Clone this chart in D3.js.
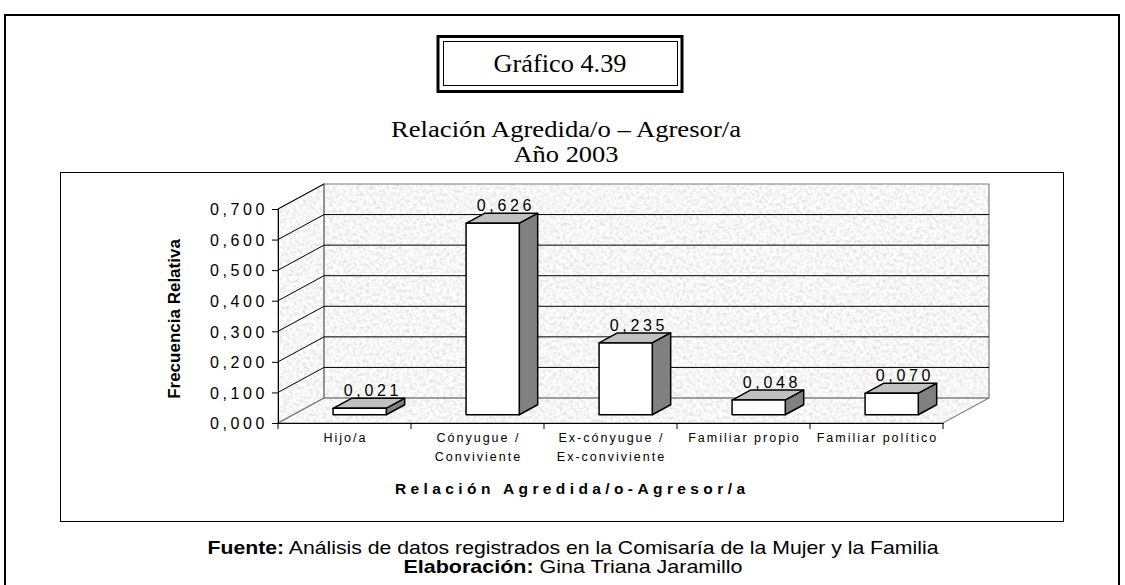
<!DOCTYPE html>
<html>
<head>
<meta charset="utf-8">
<script src="https://cdn.jsdelivr.net/npm/d3@7"></script>
<style>
  html, body { margin: 0; padding: 0; background: #fff; }
  svg { display: block; }
</style>
</head>
<body>
<svg id="chart" width="1125" height="585"></svg>
<script>
// Relative frequency by victim–aggressor relationship, 2003
const categories = [
  ["Hijo/a"],
  ["Cónyugue /", "Conviviente"],
  ["Ex-cónyugue /", "Ex-conviviente"],
  ["Familiar propio"],
  ["Familiar político"]
];
const values = [0.021, 0.626, 0.235, 0.048, 0.070];
const valueLabels = ["0,021", "0,626", "0,235", "0,048", "0,070"];
const yTicks = [0, 0.1, 0.2, 0.3, 0.4, 0.5, 0.6, 0.7];
const yTickLabels = ["0,000", "0,100", "0,200", "0,300", "0,400", "0,500", "0,600", "0,700"];

const svg = d3.select("#chart");
const sans = "'Liberation Sans', Arial, sans-serif";
const serif = "'Liberation Serif', 'Times New Roman', serif";

// stone texture for walls and floor
const defs = svg.append("defs");
const f = defs.append("filter").attr("id", "granite")
  .attr("x", 0).attr("y", 0).attr("width", 1).attr("height", 1);
f.append("feTurbulence").attr("type", "fractalNoise").attr("baseFrequency", "0.3")
  .attr("numOctaves", 3).attr("seed", 7).attr("result", "noise");
f.append("feColorMatrix").attr("in", "noise").attr("type", "matrix")
  .attr("values", "0.5 0 0 0 0.67  0.5 0 0 0 0.67  0.5 0 0 0 0.67  0 0 0 0 1")
  .attr("result", "gray");
f.append("feComposite").attr("in", "gray").attr("in2", "SourceGraphic").attr("operator", "in");

// page frame
svg.append("path")
  .attr("d", "M5,600 L5,15 L1119,15 L1119,600")
  .attr("fill", "none").attr("stroke", "#000").attr("stroke-width", 2);

// title box with double border
svg.append("rect").attr("x", 438).attr("y", 36.5).attr("width", 244).attr("height", 55)
  .attr("fill", "none").attr("stroke", "#000").attr("stroke-width", 3);
svg.append("rect").attr("x", 443.5).attr("y", 41.5).attr("width", 234).attr("height", 44)
  .attr("fill", "none").attr("stroke", "#000").attr("stroke-width", 1);
svg.append("text").attr("x", 560).attr("y", 72).attr("text-anchor", "middle")
  .attr("font-family", serif).attr("font-size", 26).attr("textLength", 133)
  .attr("lengthAdjust", "spacingAndGlyphs").text("Gráfico 4.39");

svg.append("text").attr("x", 566).attr("y", 137).attr("text-anchor", "middle")
  .attr("font-family", serif).attr("font-size", 24).attr("textLength", 350)
  .attr("lengthAdjust", "spacingAndGlyphs").text("Relación Agredida/o – Agresor/a");
svg.append("text").attr("x", 566).attr("y", 162).attr("text-anchor", "middle")
  .attr("font-family", serif).attr("font-size", 24).attr("textLength", 105)
  .attr("lengthAdjust", "spacingAndGlyphs").text("Año 2003");

// chart area
svg.append("rect").attr("x", 60.5).attr("y", 172.5).attr("width", 1003).attr("height", 349)
  .attr("fill", "#fff").attr("stroke", "#000").attr("stroke-width", 1);

// 3-D projection: front plane scales plus a depth offset
const depthDX = 46, depthDY = -25;
const x = d3.scaleBand().domain(d3.range(categories.length)).range([278, 943]).paddingInner(0).paddingOuter(0);
const y = d3.scaleLinear().domain([0, 0.7]).range([423, 209]);
const P = (px, py, d) => [px + depthDX * d, py + depthDY * d];
const poly = pts => "M" + pts.map(p => p.join(",")).join("L") + "Z";

const x0 = x.range()[0], x1 = x.range()[1];
const g = svg.append("g");

// back wall, side wall, floor
const backWall = [P(x0, y(0.7), 1), P(x1, y(0.7), 1), P(x1, y(0), 1), P(x0, y(0), 1)];
const sideWall = [P(x0, y(0.7), 0), P(x0, y(0.7), 1), P(x0, y(0), 1), P(x0, y(0), 0)];
const floor = [P(x0, y(0), 0), P(x1, y(0), 0), P(x1, y(0), 1), P(x0, y(0), 1)];
[backWall, sideWall, floor].forEach(pts => {
  g.append("path").attr("d", poly(pts)).attr("fill", "#000").attr("filter", "url(#granite)");
});
const edge = "#808080";
[backWall, floor, sideWall].forEach(pts => {
  g.append("path").attr("d", poly(pts)).attr("fill", "none")
    .attr("stroke", edge).attr("stroke-width", 1.2);
});

// gridlines on back wall and matching lines on side wall
yTicks.filter(v => v > 0).forEach(v => {
  const a = P(x0, y(v), 1), b = P(x1, y(v), 1), c = P(x0, y(v), 0);
  if (v < 0.7) {
    g.append("line").attr("x1", a[0]).attr("y1", a[1]).attr("x2", b[0]).attr("y2", b[1])
      .attr("stroke", "#000").attr("stroke-width", 1);
  }
  g.append("line").attr("x1", c[0]).attr("y1", c[1]).attr("x2", a[0]).attr("y2", a[1])
    .attr("stroke", "#000").attr("stroke-width", 1);
});

// y axis
const yAxis = g.append("g").attr("transform", `translate(${x0},0)`)
  .call(d3.axisLeft(y).tickValues(yTicks).tickSize(6).tickFormat((d, i) => yTickLabels[i]));
yAxis.select(".domain").attr("stroke", "#000");
yAxis.selectAll("text").attr("font-family", sans).attr("font-size", 16)
  .attr("letter-spacing", "3.6px").attr("fill", "#000").attr("x", -10).attr("dy", "0.36em");

// x axis on the front floor edge
const xAxis = g.append("g").attr("transform", `translate(0,${y(0)})`)
  .call(d3.axisBottom(x).tickSize(0).tickFormat(""));
xAxis.select(".domain").attr("stroke", "#000");
d3.range(categories.length + 1).forEach(i => {
  const px = x0 + i * x.bandwidth();
  xAxis.append("line").attr("x1", px).attr("x2", px).attr("y1", 0).attr("y2", 6).attr("stroke", "#000");
});

// category labels
categories.forEach((lines, i) => {
  const t = g.append("text").attr("text-anchor", "middle")
    .attr("font-family", sans).attr("font-size", 12.5).attr("letter-spacing", "2px");
  lines.forEach((ln, k) => {
    t.append("tspan").attr("x", x(i) + x.bandwidth() / 2 + 1).attr("y", 442 + k * 19).text(ln);
  });
});

// bars as 3-D prisms
const barW = x.bandwidth() * 0.4;
const barD0 = 0.33, barD1 = 0.73;
values.forEach((v, i) => {
  const left = x(i) + (x.bandwidth() - barW) / 2;
  const right = left + barW;
  const fBL = P(left, y(0), barD0), fBR = P(right, y(0), barD0);
  const fTL = P(left, y(v), barD0), fTR = P(right, y(v), barD0);
  const bTL = P(left, y(v), barD1), bTR = P(right, y(v), barD1), bBR = P(right, y(0), barD1);
  g.append("path").attr("d", poly([fTL, fTR, bTR, bTL])).attr("fill", "#c0c0c0")
    .attr("stroke", "#000").attr("stroke-width", 1.5).attr("stroke-linejoin", "round");
  g.append("path").attr("d", poly([fTR, bTR, bBR, fBR])).attr("fill", "#808080")
    .attr("stroke", "#000").attr("stroke-width", 1.5).attr("stroke-linejoin", "round");
  g.append("path").attr("d", poly([fTL, fTR, fBR, fBL])).attr("fill", "#fff")
    .attr("stroke", "#000").attr("stroke-width", 1.5).attr("stroke-linejoin", "round");
  const cx = (fTL[0] + bTR[0]) / 2 + 4;
  g.append("text").attr("x", cx).attr("y", bTL[1] - 2).attr("text-anchor", "middle")
    .attr("font-family", sans).attr("font-size", 16).attr("letter-spacing", "3.6px")
    .text(valueLabels[i]);
});

// axis titles
svg.append("text").attr("transform", "translate(180,319) rotate(-90)").attr("text-anchor", "middle")
  .attr("font-family", sans).attr("font-size", 17).attr("font-weight", "bold").text("Frecuencia Relativa");
svg.append("text").attr("x", 570).attr("y", 494).attr("text-anchor", "middle")
  .attr("font-family", sans).attr("font-size", 15.5).attr("font-weight", "bold")
  .attr("textLength", 350).attr("lengthAdjust", "spacing")
  .text("Relación Agredida/o-Agresor/a");

// source notes
const src = svg.append("text").attr("x", 573).attr("y", 554).attr("text-anchor", "middle")
  .attr("font-family", sans).attr("font-size", 18.5)
  .attr("textLength", 731).attr("lengthAdjust", "spacingAndGlyphs");
src.append("tspan").attr("font-weight", "bold").text("Fuente:");
src.append("tspan").text(" Análisis de datos registrados en la Comisaría de la Mujer y la Familia");
const el = svg.append("text").attr("x", 573).attr("y", 573).attr("text-anchor", "middle")
  .attr("font-family", sans).attr("font-size", 18.5)
  .attr("textLength", 339).attr("lengthAdjust", "spacingAndGlyphs");
el.append("tspan").attr("font-weight", "bold").text("Elaboración:");
el.append("tspan").text(" Gina Triana Jaramillo");
</script>
</body>
</html>
